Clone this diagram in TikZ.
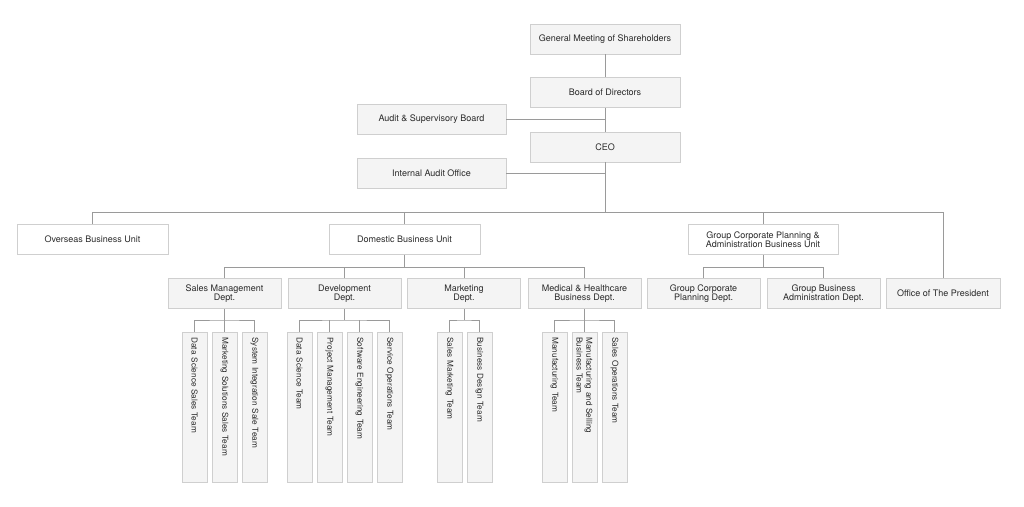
\documentclass[tikz,border=0pt]{standalone}
\usepackage{fontspec}
\setmainfont{TeX Gyre Heros}
\usetikzlibrary{positioning, calc}
\definecolor{cFill}{HTML}{F4F4F4}
\definecolor{cBd}{HTML}{CFCFCF}
\definecolor{cLn}{HTML}{9A9A9A}
\definecolor{cTx}{HTML}{2A2A2A}

\begin{document}
\begin{tikzpicture}[x=1pt, y=-1pt,
    bx/.style={draw=cBd, line width=0.9pt, minimum height=30, inner sep=2pt,
               align=center, text=cTx, font=\fontsize{9}{10.5}\selectfont},
    gbx/.style={bx, fill=cFill},
    wbx/.style={bx, fill=white},
    dept/.style={gbx, minimum width=113},
    team/.style={gbx, rotate=-90, minimum width=150, minimum height=25,
                 text width=139, inner xsep=5.5pt, inner ysep=1pt, align=left,
                 font=\fontsize{8.2}{9.6}\selectfont},
    ln/.style={draw=cLn, line width=0.8pt},
]
\useasboundingbox (0,0) rectangle (1024,506);

% === TOP: shareholders -> board -> CEO ===
\node[gbx, minimum width=150] (gms) at (605,39) {General Meeting of Shareholders};
\node[gbx, minimum width=150] (bod) at (605,92.5) {Board of Directors};
\node[gbx, minimum width=150] (ceo) at (605,147) {CEO};
\node[gbx, minimum width=149] (asb) at (431.5,119.5) {Audit \& Supervisory Board};
\node[gbx, minimum width=149] (iao) at (431.5,173.5) {Internal Audit Office};

\draw[ln] (gms) -- (bod);
\draw[ln] (bod) -- (ceo);
\draw[ln] (asb) -- (asb -| bod);
\draw[ln] (iao) -- (iao -| ceo);

% === BUSINESS UNITS ===
\coordinate (bus) at (605,212);
\node[wbx, minimum width=151] (osb) at (92.5,239.5) {Overseas Business Unit};
\node[wbx, minimum width=151] (dbu) at (404.5,239.5) {Domestic Business Unit};
\node[wbx, minimum width=150] (gcp) at (763,239.5) {Group Corporate Planning \&\\[-1pt]Administration Business Unit};
\node[dept, minimum width=114] (pres) at (943,293.5) {Office of The President};

\draw[ln] (ceo) -- (bus);
\draw[ln] (osb) |- (bus);
\draw[ln] (pres) |- (bus);
\draw[ln] (dbu) -- (dbu |- bus);
\draw[ln] (gcp) -- (gcp |- bus);

% === DEPARTMENTS ===
\coordinate (dj) at (404.5,267);
\node[dept] (smd) at (224.5,293.5) {Sales Management\\[-1pt]Dept.};
\node[dept] (dev) at (344.5,293.5) {Development\\[-1pt]Dept.};
\node[dept] (mkd) at (464,293.5) {Marketing\\[-1pt]Dept.};
\node[dept] (med) at (584.5,293.5) {Medical \& Healthcare\\[-1pt]Business Dept.};

\draw[ln] (dbu) -- (dj);
\draw[ln] (smd) |- (dj);
\draw[ln] (med) |- (dj);
\draw[ln] (dev) -- (dev |- dj);
\draw[ln] (mkd) -- (mkd |- dj);

\coordinate (gj) at (763,267);
\node[dept] (gcpd) at (703.5,293.5) {Group Corporate\\[-1pt]Planning Dept.};
\node[dept] (gbad) at (823.5,293.5) {Group Business\\[-1pt]Administration Dept.};

\draw[ln] (gcp) -- (gj);
\draw[ln] (gcpd) |- (gj);
\draw[ln] (gbad) |- (gj);

% === TEAMS (rotated) ===
\node[team] (t1) at (194.5,407) {Data Science Sales Team};
\node[team] (t2) at (224.5,407) {Marketing Solutions Sales Team};
\node[team] (t3) at (254.5,407) {System Integration Sale Team};
\coordinate (sj) at (224.5,320);
\draw[ln] (smd) -- (sj);
\draw[ln] (t1.west) |- (sj) -| (t3.west);
\draw[ln] (t2.west) -- (sj);

\node[team] (t4) at (299.5,407) {Data Science Team};
\node[team] (t5) at (329.5,407) {Project Management Team};
\node[team] (t6) at (359.5,407) {Software Engineering Team};
\node[team] (t7) at (389.5,407) {Service Operations Team};
\coordinate (vj) at (344.5,320);
\draw[ln] (dev) -- (vj);
\draw[ln] (t4.west) |- (vj) -| (t7.west);
\draw[ln] (t5.west) -- (t5.west |- vj);
\draw[ln] (t6.west) -- (t6.west |- vj);

\node[team] (t8) at (449.5,407) {Sales Marketing Team};
\node[team] (t9) at (479.5,407) {Business Design Team};
\coordinate (mj) at (464,320);
\draw[ln] (mkd) -- (mj);
\draw[ln] (t8.west) |- (mj) -| (t9.west);

\node[team] (t10) at (554.5,407) {Manufacturing Team};
\node[team] (t11) at (584.5,407) {Manufacturing and Selling\\Business Team};
\node[team] (t12) at (614.5,407) {Sales Operations Team};
\coordinate (hj) at (584.5,320);
\draw[ln] (med) -- (hj);
\draw[ln] (t10.west) |- (hj) -| (t12.west);
\draw[ln] (t11.west) -- (hj);

\end{tikzpicture}
\end{document}
